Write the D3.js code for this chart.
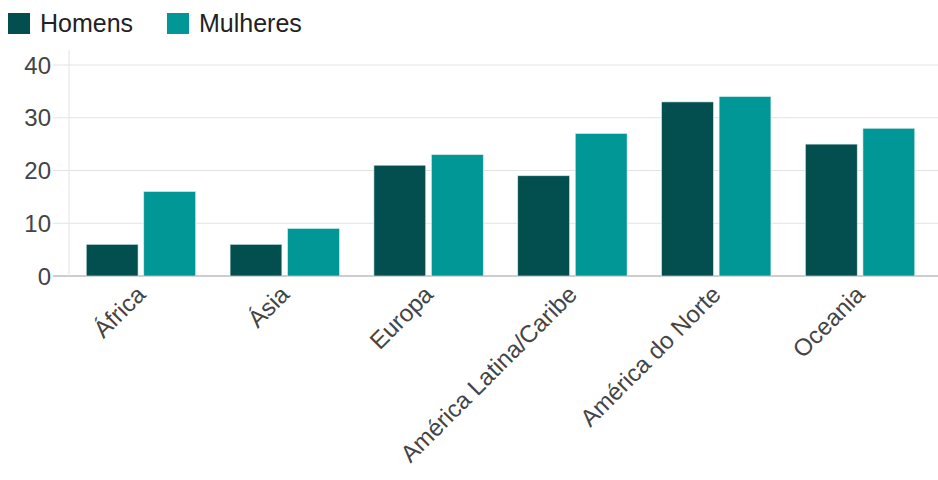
<html>
<head>
    <meta charset="utf-8">
    <title>Homens / Mulheres por região</title>
    <style>
        body { margin: 0; background: #fff; }
        text { font-family: "Liberation Sans", Arial, sans-serif; }
    </style>
</head>
<body>
    <script src="https://d3js.org/d3.v7.min.js"></script>
    <script>
        var regions = ["África", "Ásia", "Europa", "América Latina/Caribe", "América do Norte", "Oceania"];
        var series = ["Homens", "Mulheres"];
        var homens = [6, 6, 21, 19, 33, 25];
        var mulheres = [16, 9, 23, 27, 34, 28];
        var yTicks = [0, 10, 20, 30, 40];
        var colors = ["#034f4f", "#009796"];

        var width = 938, height = 480;
        var svg = d3.select("body").append("svg").attr("width", width).attr("height", height);

        var padL = 69, padR = 932, padT = 65, padB = 276;

        var x0 = d3.scaleBand().domain(regions).range([padL, padR]).paddingInner(0.24).paddingOuter(0.12);
        var x1 = d3.scaleBand().domain(series).range([0, x0.bandwidth()]).paddingInner(0.1);
        var y = d3.scaleLinear().domain([0, 40]).range([padB, padT]);

        // gridlines + tick marks
        svg.append("g").selectAll("line").data(yTicks).enter().append("line")
            .attr("x1", padL - 16).attr("x2", width)
            .attr("y1", d => y(d)).attr("y2", d => y(d))
            .attr("stroke", d => d == 0 ? "#bdbdbd" : "#e3e3e3")
            .attr("stroke-width", d => d == 0 ? 1.5 : 1);

        svg.append("line") // y axis line
            .attr("x1", padL).attr("x2", padL)
            .attr("y1", 50).attr("y2", padB)
            .attr("stroke", "#e3e3e3");

        svg.append("g").selectAll("text").data(yTicks).enter().append("text")
            .text(d => d)
            .attr("x", 51).attr("y", d => y(d)).attr("dy", "0.36em")
            .attr("text-anchor", "end")
            .attr("font-size", "24px").attr("fill", "#444");

        // bars
        var rows = regions.map((r, i) => ({ region: r, values: [homens[i], mulheres[i]] }));
        var groups = svg.append("g").selectAll("g").data(rows).enter().append("g")
            .attr("transform", d => "translate(" + x0(d.region) + ",0)");
        groups.selectAll("rect").data(d => d.values.map((v, j) => ({ key: series[j], value: v, c: colors[j] })))
            .enter().append("rect")
            .attr("x", d => x1(d.key))
            .attr("y", d => y(d.value))
            .attr("width", x1.bandwidth())
            .attr("height", d => padB - y(d.value))
            .attr("fill", d => d.c)
            .attr("stroke", "#cfe9e9").attr("stroke-width", 0.6);

        // x labels (rotated)
        svg.append("g").selectAll("text").data(regions).enter().append("text")
            .text(d => d)
            .attr("transform", d => "translate(" + (x0(d) + x0.bandwidth() / 2) + ",290) rotate(-45)")
            .attr("text-anchor", "end")
            .attr("dy", "0.35em")
            .attr("font-size", "24px").attr("fill", "#444");

        // legend
        var lx = [8, 167];
        var legend = svg.append("g").selectAll("g").data(series).enter().append("g")
            .attr("transform", (d, i) => "translate(" + lx[i] + ",13)");
        legend.append("rect").attr("width", 22).attr("height", 21).attr("fill", (d, i) => colors[i]);
        legend.append("text").text(d => d).attr("x", 32).attr("y", 19)
            .attr("font-size", "25px").attr("fill", "#222");
    </script>
</body>
</html>
